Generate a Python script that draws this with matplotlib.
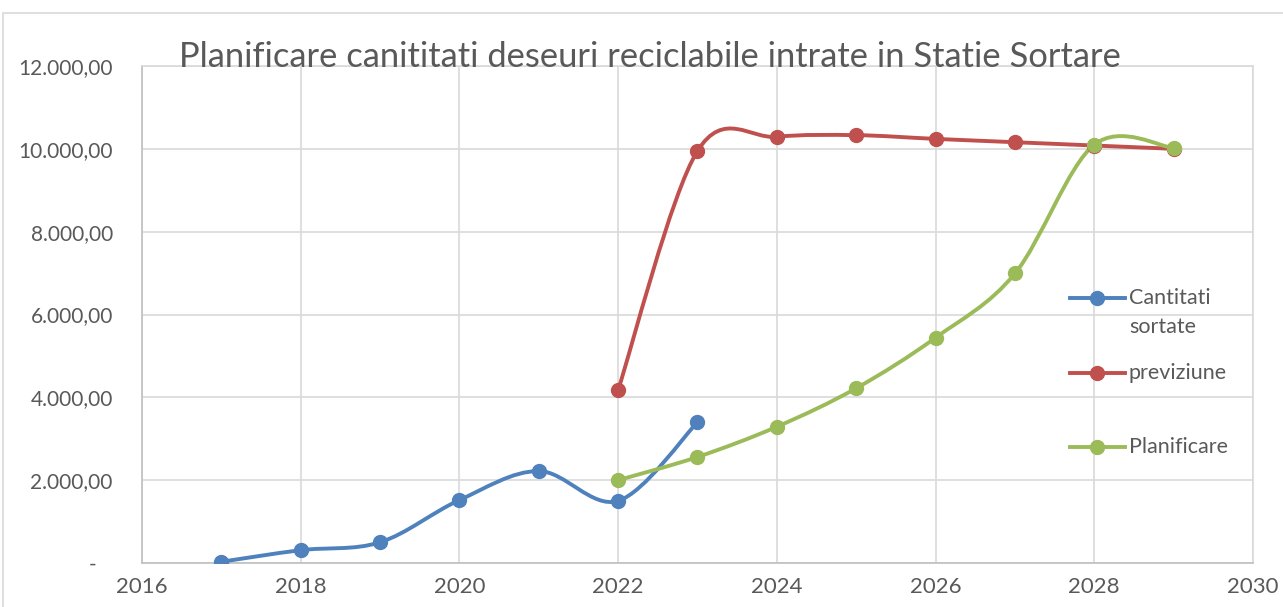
import numpy as np
import matplotlib
matplotlib.use("Agg")
import matplotlib.pyplot as plt
from matplotlib.path import Path
from matplotlib.patches import PathPatch, Rectangle
from matplotlib.lines import Line2D
from matplotlib.ticker import FuncFormatter

plt.rcParams['font.family'] = ['Lato', 'DejaVu Sans']

# data
years_sortate = [2017, 2018, 2019, 2020, 2021, 2022, 2023]
cantitati_sortate = [30, 310, 500, 1520, 2220, 1500, 3400]
years_prev = [2022, 2023, 2024, 2025, 2026, 2027, 2028, 2029]
previziune = [4180, 9950, 10290, 10330, 10240, 10160, 10080, 10000]
years_plan = [2022, 2023, 2024, 2025, 2026, 2027, 2028, 2029]
planificare = [2000, 2560, 3290, 4220, 5440, 6990, 10100, 10020]

labels = ['Cantitati', 'previziune', 'Planificare']
colors = ['#4F81BD', '#C0504D', '#9BBB59']
title = 'Planificare canititati deseuri reciclabile intrate in Statie Sortare'
W, H = 1283, 607


def smooth_path(x, y):
    # Excel-like smoothed line: cubic bezier through points (catmull-rom, /6)
    p = np.column_stack([x, y]).astype(float)
    n = len(p)
    verts = [p[0]]
    codes = [Path.MOVETO]
    for i in range(n - 1):
        p0 = p[i - 1] if i > 0 else p[i]
        p1 = p[i]
        p2 = p[i + 1]
        p3 = p[i + 2] if i + 2 < n else p[i + 1]
        c1 = p1 + (p2 - p0) / 6
        c2 = p2 - (p3 - p1) / 6
        verts += [c1, c2, p2]
        codes += [Path.CURVE4] * 3
    return Path(verts, codes)


fig = plt.figure(figsize=(W / 100, H / 100), dpi=100)
fig.patches.append(Rectangle((3 / W, -0.1), 1.2, 1 - 13 / H + 0.1,
                             transform=fig.transFigure, fill=False,
                             edgecolor='#d9d9d9', lw=1.2, zorder=0))
ax = fig.add_axes([142 / W, 1 - 563 / H, 1111 / W, 497 / H])

series = [(years_sortate, cantitati_sortate), (years_prev, previziune),
          (years_plan, planificare)]
for (xs, ys), c in zip(series, colors):
    ax.add_patch(PathPatch(smooth_path(xs, ys), fill=False, edgecolor=c,
                           lw=2.8, capstyle='round', zorder=3))
    ax.plot(xs, ys, 'o', color=c, ms=10, zorder=4)

ax.set_xlim(2016, 2030)
ax.set_ylim(0, 12000)
ax.set_xticks(range(2016, 2031, 2))
ax.set_yticks(range(0, 12001, 2000))


def fmt(v, pos):
    if v == 0:
        return '-   '
    return '{:,.2f}'.format(v).replace(',', 'X').replace('.', ',').replace('X', '.')


ax.yaxis.set_major_formatter(FuncFormatter(fmt))
ax.grid(True, color='#d9d9d9', lw=1.2)
ax.set_axisbelow(True)
for s in ax.spines.values():
    s.set_color('#d9d9d9')
    s.set_linewidth(1.2)
ax.spines['left'].set_color('#bfbfbf')
ax.spines['bottom'].set_color('#bfbfbf')
ax.tick_params(axis='x', length=0, labelsize=16, colors='#595959', pad=10)
ax.tick_params(axis='y', length=0, labelsize=15, colors='#595959', pad=21)

fig.text(650 / W, 1 - 57 / H, title, ha='center', va='center',
         fontsize=24.8, color='#595959')

# legend drawn by hand so the marker sits on the first label line
leg_y = [298, 373, 447]
for c, lab, yy in zip(colors, labels, leg_y):
    fy = 1 - yy / H
    fig.add_artist(Line2D([1070 / W, 1125 / W], [fy, fy], color=c, lw=2.8,
                          transform=fig.transFigure))
    fig.add_artist(Line2D([1097 / W], [fy], color=c, marker='o', ms=10,
                          transform=fig.transFigure))
    fig.text(1129 / W, fy, lab, ha='left', va='center', fontsize=15.5,
             color='#595959')
fig.text(1129 / W, 1 - 327 / H, 'sortate', ha='left', va='center',
         fontsize=15.5, color='#595959')

fig.savefig('out.png', dpi=100)
